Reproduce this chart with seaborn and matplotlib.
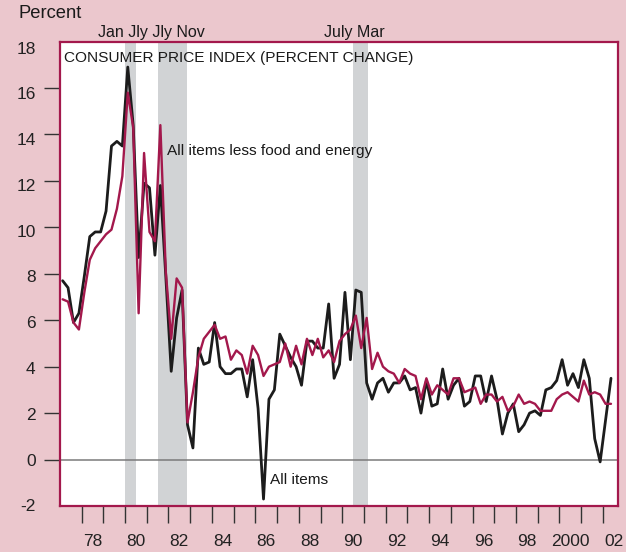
import matplotlib
matplotlib.use('Agg')
import matplotlib.pyplot as plt
import matplotlib.transforms as mtransforms
import numpy as np
import pandas as pd
import seaborn as sns

# Quarterly CPI, annualized percent change, 1977Q1 - 2002Q2
quarters = pd.period_range('1977Q1', '2002Q2', freq='Q')

all_items = [7.7, 7.4, 5.9, 6.3, 7.9, 9.6, 9.8, 9.8, 10.7, 13.5, 13.7, 13.5,
             16.9, 14.4, 8.7, 11.9, 11.7, 8.8, 11.8, 7.9, 3.8, 6.1, 7.3, 1.5,
             0.5, 4.8, 4.1, 4.2, 5.9, 4.0, 3.7, 3.7, 3.9, 3.9, 2.7, 4.3,
             2.2, -1.7, 2.6, 3.0, 5.4, 4.9, 4.4, 4.0, 3.2, 5.1, 5.1, 4.8,
             4.8, 6.7, 3.5, 4.1, 7.2, 4.3, 7.3, 7.2, 3.3, 2.6, 3.3, 3.5,
             2.9, 3.3, 3.3, 3.6, 3.0, 3.1, 2.0, 3.4, 2.3, 2.4, 3.9, 2.6,
             3.2, 3.5, 2.3, 2.5, 3.6, 3.6, 2.5, 3.6, 2.6, 1.1, 2.0, 2.4,
             1.2, 1.5, 2.0, 2.1, 1.9, 3.0, 3.1, 3.4, 4.3, 3.2, 3.7, 3.1,
             4.3, 3.5, 0.9, -0.1, 1.7, 3.5]

core = [6.9, 6.8, 5.9, 5.6, 7.2, 8.6, 9.1, 9.4, 9.7, 9.9, 10.8, 12.2,
        15.8, 14.3, 6.3, 13.2, 9.8, 9.4, 14.4, 8.1, 5.2, 7.8, 7.4, 1.6,
        2.9, 4.4, 5.2, 5.5, 5.8, 5.2, 5.3, 4.3, 4.7, 4.5, 3.7, 4.9,
        4.5, 3.6, 4.0, 4.1, 4.2, 5.0, 4.0, 4.9, 4.1, 5.2, 4.5, 5.2,
        4.4, 4.7, 4.2, 5.1, 5.4, 5.6, 6.2, 4.8, 6.1, 3.9, 4.6, 4.0,
        3.8, 3.7, 3.3, 3.9, 3.7, 3.6, 2.6, 3.5, 2.8, 3.2, 3.0, 2.8,
        3.5, 3.5, 2.9, 3.0, 3.1, 2.4, 2.8, 2.8, 2.5, 2.7, 2.1, 2.3,
        2.8, 2.4, 2.5, 2.4, 2.1, 2.1, 2.1, 2.6, 2.8, 2.9, 2.7, 2.5,
        3.4, 2.8, 2.9, 2.8, 2.4, 2.4]

# recessions (start, end) in fractional years
recession_start = [1980.0, 1981.5, 1990.5]
recession_end = [1980.5, 1982 + 10 / 12, 1991 + 2 / 12]

tick_years = list(range(1978, 2003))
label_years = list(range(1978, 2003, 2))
year_labels = ['78', '80', '82', '84', '86', '88', '90', '92', '94', '96', '98', '2000', '02']

# colours
pink_bg = '#EBC7CD'
crimson = '#A3184C'
shade = '#D1D3D5'

# decimal year at middle of each quarter
x_year = quarters.year + (quarters.quarter - 1) * 0.25 + 0.125
df = pd.DataFrame({'year': x_year, 'all_items': all_items, 'core': core})

sns.set_theme(style='white')
plt.rcParams['font.family'] = ['Liberation Sans', 'DejaVu Sans']

fig = plt.figure(figsize=(6.26, 5.52), dpi=100, facecolor=pink_bg)
ax = fig.add_axes([0.0957, 0.0833, 0.8923, 0.8415])
ax.set_facecolor('white')

for s, e in zip(recession_start, recession_end):
    ax.axvspan(s, e, color=shade, lw=0, zorder=0)

ax.axhline(0, color='#7a7a7a', lw=1.1, zorder=1)

sns.lineplot(data=df, x='year', y='all_items', color='#1c1c1c', lw=2.0, ax=ax, zorder=3)
sns.lineplot(data=df, x='year', y='core', color=crimson, lw=1.7, ax=ax, zorder=4)

ax.set_xlim(1977.0, 2002.72)
ax.set_ylim(-2, 18)
ax.set_xlabel('')
ax.set_ylabel('')

# x axis: year ticks, labels centered in the year
ax.set_xticks(tick_years)
ax.set_xticklabels([])
ax.set_xticks([y + 0.5 for y in label_years], minor=True)
ax.set_xticklabels(year_labels, minor=True)
ax.tick_params(axis='x', which='major', direction='out', length=12, width=1.0,
               color='#333333', bottom=True)
ax.tick_params(axis='x', which='minor', length=0, pad=20, labelsize=12.5,
               labelcolor='#222222')

# y axis
y_ticks = list(range(-2, 19, 2))
ax.set_yticks(y_ticks)
ax.set_yticklabels([str(v) for v in y_ticks])
ax.tick_params(axis='y', direction='out', length=11.5, width=1.0, color='#333333',
               left=True, pad=6, labelsize=12.5, labelcolor='#222222')
yt = ax.yaxis.get_major_ticks()
yt[0].tick1line.set_visible(False)
yt[-1].tick1line.set_visible(False)
# labels drift a little below their ticks towards the top
for v, lab in zip(y_ticks, ax.get_yticklabels()):
    off = mtransforms.ScaledTranslation(0, -(v / 3.0) / 100, fig.dpi_scale_trans)
    lab.set_transform(lab.get_transform() + off)

for sp in ax.spines.values():
    sp.set_color(crimson)
    sp.set_linewidth(1.6)
    sp.set_visible(True)

# texts
ax.text(0.007, 0.98, 'CONSUMER PRICE INDEX (PERCENT CHANGE)', transform=ax.transAxes,
        ha='left', va='top', fontsize=11.1, color='#1a1a1a', zorder=5)
ax.text(1981.93, 13.3, 'All items less food and energy', ha='left', va='center',
        fontsize=11.1, color='#1a1a1a', zorder=5)
ax.text(1986.66, -0.88, 'All items', ha='left', va='center', fontsize=11.1,
        color='#1a1a1a', zorder=5)

trans = mtransforms.blended_transform_factory(ax.transData, fig.transFigure)
ax.text(1981.23, 1 - 32 / 552, 'Jan Jly Jly Nov', transform=trans, ha='center',
        va='center', fontsize=11.5, color='#1a1a1a')
ax.text(1990.56, 1 - 32 / 552, 'July Mar', transform=trans, ha='center',
        va='center', fontsize=11.5, color='#1a1a1a')
fig.text(19 / 626, 1 - 13 / 552, 'Percent', ha='left', va='center', fontsize=13.2,
         color='#1a1a1a')

fig.savefig('out.png', dpi=100, facecolor=pink_bg)
